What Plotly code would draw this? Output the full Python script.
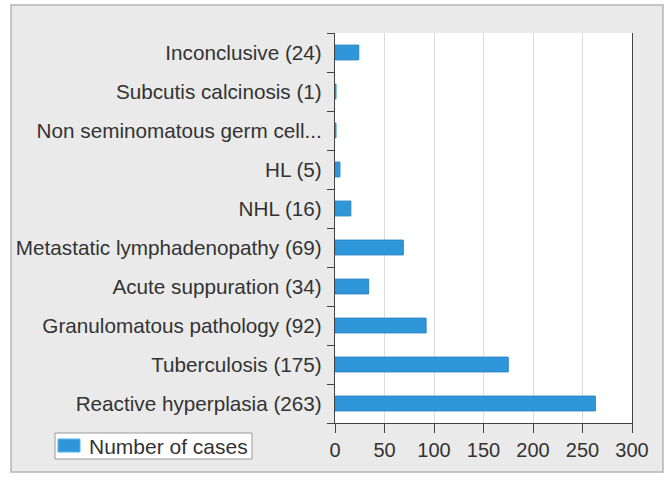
import plotly.graph_objects as go

categories = [
    "Reactive hyperplasia (263)",
    "Tuberculosis (175)",
    "Granulomatous pathology (92)",
    "Acute suppuration (34)",
    "Metastatic lymphadenopathy (69)",
    "NHL (16)",
    "HL (5)",
    "Non seminomatous germ cell...",
    "Subcutis calcinosis (1)",
    "Inconclusive (24)",
]
values = [263, 175, 92, 34, 69, 16, 5, 1, 1, 24]
x_ticks = [0, 50, 100, 150, 200, 250, 300]
series_name = "Number of cases"

FONT = "Liberation Sans, Arial, sans-serif"
BAR = "#2f96da"

W, H = 668, 485
L, R, T, B = 335, 36, 33, 62
PW, PH = W - L - R, H - T - B


def px(x):
    return (x - L) / PW


def py(y):
    return (H - B - y) / PH


fig = go.Figure()
fig.add_trace(go.Bar(
    y=categories, x=values, orientation="h", name=series_name,
    marker=dict(color=BAR, line=dict(color="#2a86c8", width=1)),
    showlegend=False,
))

fig.update_layout(
    width=W, height=H,
    margin=dict(l=L, r=R, t=T, b=B),
    paper_bgcolor="white",
    plot_bgcolor="white",
    bargap=0.62,
    font=dict(family=FONT, size=20, color="#333333"),
    showlegend=False,
    shapes=[
        dict(type="rect", xref="paper", yref="paper",
             x0=px(11), x1=px(663), y0=py(472), y1=py(5),
             fillcolor="#eaeaea", line=dict(color="#b5b5b5", width=1.5),
             layer="below"),
        dict(type="rect", xref="paper", yref="paper",
             x0=0, x1=1, y0=0, y1=1,
             fillcolor="white", line=dict(width=0), layer="below"),
        # legend box
        dict(type="rect", xref="paper", yref="paper",
             x0=px(55), x1=px(252), y0=py(459), y1=py(433),
             fillcolor="white", line=dict(color="#9a9a9a", width=1),
             layer="above"),
        dict(type="rect", xref="paper", yref="paper",
             x0=px(58), x1=px(80), y0=py(452), y1=py(439),
             fillcolor=BAR, line=dict(color="#59b3ea", width=1),
             layer="above"),
    ],
    annotations=[
        dict(text=series_name, xref="paper", yref="paper",
             x=px(87), y=py(446), xanchor="left", yanchor="middle",
             showarrow=False, font=dict(family=FONT, size=21, color="#333333")),
    ],
)

fig.update_xaxes(
    range=[0, 300], tickvals=x_ticks, ticktext=[str(v) for v in x_ticks],
    showgrid=True, gridcolor="#dcdcdc", gridwidth=1,
    showline=True, linecolor="#444444", linewidth=1.2,
    ticks="outside", ticklen=9, tickcolor="#444444",
    zeroline=False, tickfont=dict(size=20, color="#333333"),
    fixedrange=True,
)
fig.update_yaxes(
    type="category", categoryorder="array", categoryarray=categories,
    showline=True, linecolor="#444444", linewidth=1.2, mirror=True,
    ticks="outside", ticklen=7, tickcolor="#444444", tickson="boundaries",
    showgrid=False, tickfont=dict(size=20.7, color="#333333"),
    ticklabelstandoff=8,
    fixedrange=True,
)

fig.write_html("out.html", config={"displayModeBar": False},
               post_script="document.body.style.margin='0';")
